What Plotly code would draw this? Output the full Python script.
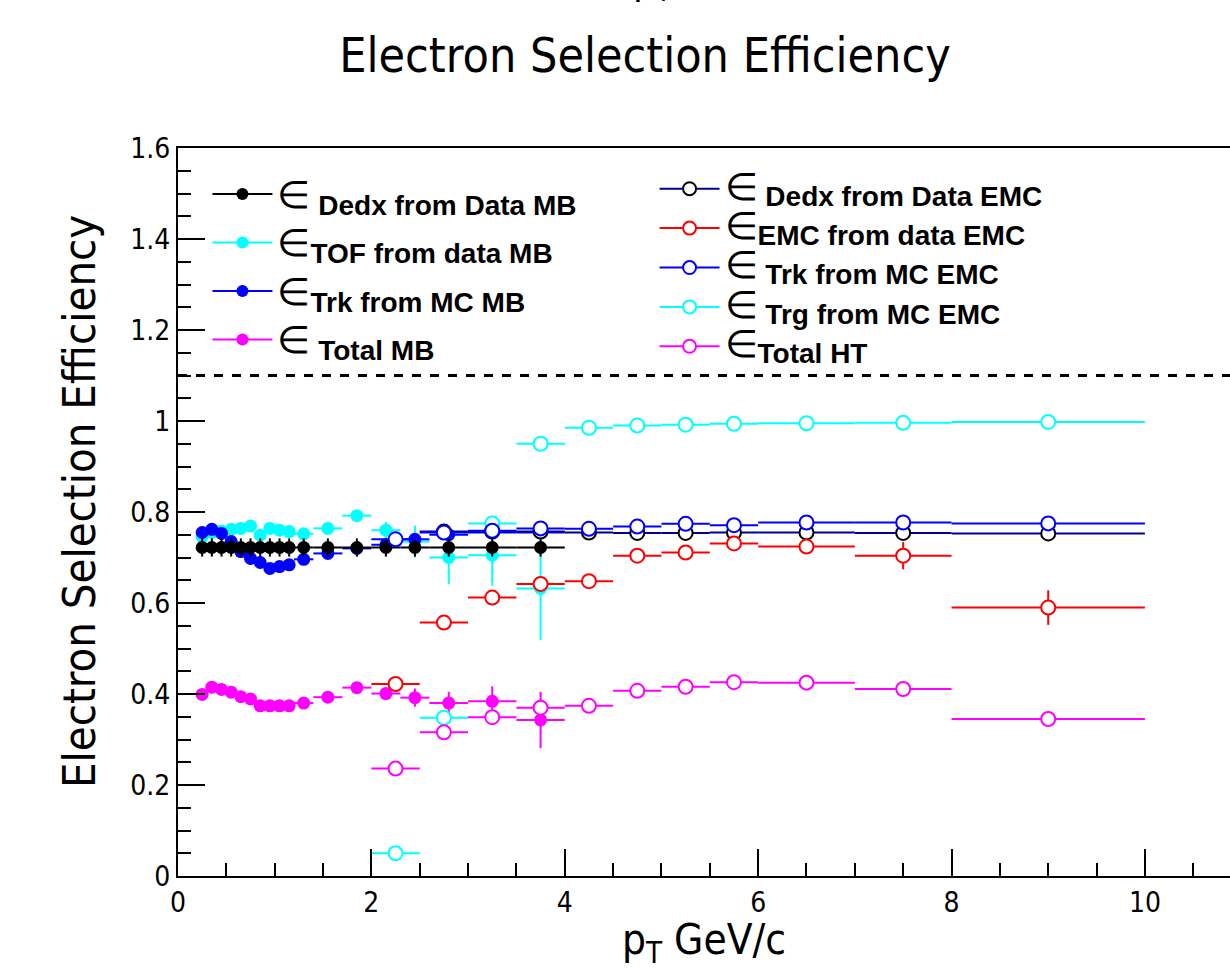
import plotly.graph_objects as go

# ---------------- data ----------------
mb_x = [0.25, 0.35, 0.45, 0.55, 0.65, 0.75, 0.85, 0.95, 1.05, 1.15,
        1.3, 1.55, 1.85, 2.15, 2.45, 2.8, 3.25, 3.75]
mb_xerr = [0.05] * 10 + [0.1, 0.15, 0.15, 0.15, 0.15, 0.2, 0.25, 0.25]

dedx_mb = [0.722] * 18
dedx_mb_err = [0.02] * 18

tof_mb = [0.745, 0.755, 0.758, 0.762, 0.764, 0.769, 0.749, 0.764, 0.760, 0.757,
          0.752, 0.764, 0.792, 0.760, 0.735, 0.700, 0.705, 0.632]
tof_mb_err = [0.012] * 13 + [0.018, 0.035, 0.058, 0.067, 0.113]

trk_mb = [0.755, 0.762, 0.753, 0.735, 0.713, 0.698, 0.689, 0.676, 0.680, 0.684,
          0.696, 0.709, 0.720, 0.728, 0.740, 0.750, 0.755, 0.755]
trk_mb_err = [0.005] * 18

total_mb = [0.399, 0.415, 0.410, 0.404, 0.394, 0.389, 0.374, 0.374, 0.374, 0.374,
            0.380, 0.393, 0.414, 0.401, 0.392, 0.380, 0.384, 0.343]
total_mb_err = [0.005] * 14 + [0.02, 0.025, 0.033, 0.062]

emc_x = [2.25, 2.75, 3.25, 3.75, 4.25, 4.75, 5.25, 5.75, 6.5, 7.5, 9.0]
emc_xerr = [0.25] * 8 + [0.5, 0.5, 1.0]

dedx_emc_x = emc_x[1:]
dedx_emc_xerr = emc_xerr[1:]
dedx_emc = [0.757, 0.757, 0.757, 0.755, 0.754, 0.754, 0.755, 0.755, 0.754, 0.753]
dedx_emc_err = [0.004] * 10

emc_emc = [0.422, 0.557, 0.612, 0.642, 0.648, 0.704, 0.711, 0.731, 0.724, 0.704, 0.590]
emc_emc_err = [0.008] * 8 + [0.012, 0.03, 0.038]

trk_emc = [0.740, 0.755, 0.759, 0.764, 0.763, 0.768, 0.774, 0.771, 0.777, 0.777, 0.775]
trk_emc_err = [0.004] * 11

trg_emc = [0.050, 0.348, 0.775, 0.950, 0.985, 0.990, 0.992, 0.994, 0.995, 0.996, 0.998]
trg_emc_err = [0.003] * 11

total_ht = [0.236, 0.316, 0.349, 0.370, 0.374, 0.407, 0.416, 0.426, 0.425, 0.411, 0.345]
total_ht_err = [0.005] * 9 + [0.01, 0.015]

ref_level = 1.1

labels_mb = ["Dedx from Data MB", "TOF from data MB", "Trk from MC MB", "Total MB"]
labels_emc = ["Dedx from Data EMC", "EMC from data EMC", "Trk from MC EMC",
              "Trg from MC EMC", "Total HT"]
pad_mb = [True, False, False, True]
pad_emc = [True, False, True, True, False]

NARROW = "Liberation Sans Narrow, Arial Narrow, DejaVu Sans Condensed, sans-serif"
BOLD = "Liberation Sans, Arial, sans-serif"
NAVY = "#000090"

fig = go.Figure()


def add_series(x, y, xerr, yerr, color, open_marker, barcolor=None):
    bc = barcolor or color
    if open_marker:
        marker = dict(symbol="circle", size=14, color="white",
                      line=dict(color=color, width=2))
    else:
        marker = dict(symbol="circle", size=13, color=color,
                      line=dict(color=color, width=0))
    fig.add_trace(go.Scatter(
        x=x, y=y, mode="markers", marker=marker, showlegend=False,
        error_x=dict(type="data", array=xerr, color=bc, thickness=2, width=0),
        error_y=dict(type="data", array=yerr, color=bc, thickness=2, width=0),
        hoverinfo="x+y"))


# MB (filled)
add_series(mb_x, tof_mb, mb_xerr, tof_mb_err, "#00ffff", False)
add_series(mb_x, trk_mb, mb_xerr, trk_mb_err, "#0000ff", False)
add_series(mb_x, dedx_mb, mb_xerr, dedx_mb_err, "#000000", False)
add_series(mb_x, total_mb, mb_xerr, total_mb_err, "#ff00ff", False)
# EMC (open)
add_series(emc_x, trg_emc, emc_xerr, trg_emc_err, "#00ffff", True)
add_series(dedx_emc_x, dedx_emc, dedx_emc_xerr, dedx_emc_err, "#000000", True, NAVY)
add_series(emc_x, trk_emc, emc_xerr, trk_emc_err, "#0000ff", True)
add_series(emc_x, emc_emc, emc_xerr, emc_emc_err, "#ff0000", True)
add_series(emc_x, total_ht, emc_xerr, total_ht_err, "#ff00ff", True)


def leg_name(text, pad):
    sp = "\u00a0" if pad else ""
    return ('<span style="font-size:38px">\u2208</span>'
            '<sub><span style="font-size:28px"><b>' + sp + text + '</b></span></sub>')


mb_colors = ["#000000", "#00ffff", "#0000ff", "#ff00ff"]
for lab, p, c in zip(labels_mb, pad_mb, mb_colors):
    fig.add_trace(go.Scatter(
        x=[None], y=[None], mode="lines+markers", name=leg_name(lab, p),
        line=dict(color=c, width=2),
        marker=dict(symbol="circle", size=12, color=c), legend="legend"))

emc_colors = ["#000000", "#ff0000", "#0000ff", "#00ffff", "#ff00ff"]
emc_lines = [NAVY, "#ff0000", "#0000ff", "#00ffff", "#ff00ff"]
for lab, p, c, lc in zip(labels_emc, pad_emc, emc_colors, emc_lines):
    fig.add_trace(go.Scatter(
        x=[None], y=[None], mode="lines+markers", name=leg_name(lab, p),
        line=dict(color=lc, width=2),
        marker=dict(symbol="circle", size=13, color="white",
                    line=dict(color=c, width=2)), legend="legend2"))

fig.add_shape(type="line", xref="paper", x0=0, x1=1, yref="y",
              y0=ref_level, y1=ref_level,
              line=dict(color="black", width=3, dash="dash"))

# fragment of a text lying above the canvas (only its bottom shows)
fig.add_annotation(text="p<sub>T</sub>", xref="paper", yref="paper",
                   x=(652 - 178) / 1052, y=(876 - 10) / 728, xanchor="center",
                   yanchor="bottom", showarrow=False,
                   font=dict(family=NARROW, size=40, color="black"))

# y-axis title
fig.add_annotation(text="Electron Selection Efficiency", xref="paper", yref="paper",
                   x=(79 - 178) / 1052, y=(876 - 502) / 728, xanchor="center",
                   yanchor="middle", textangle=-90, showarrow=False,
                   font=dict(family=NARROW, size=45, color="black"))

fig.update_layout(
    width=1230, height=970,
    margin=dict(l=178, r=0, t=148, b=94),
    paper_bgcolor="white", plot_bgcolor="white",
    title=dict(text="Electron Selection Efficiency", x=645 / 1230, xanchor="center",
               y=1 - 55 / 970, yanchor="middle",
               font=dict(family=NARROW, size=48, color="black")),
    font=dict(family=NARROW, color="black"),
    legend=dict(x=0.028, y=0.977, xanchor="left", yanchor="top",
                bgcolor="rgba(0,0,0,0)", borderwidth=0, itemwidth=60,
                font=dict(family=BOLD, size=35, color="black"),
                traceorder="normal"),
    legend2=dict(x=0.453, y=0.978, xanchor="left", yanchor="top",
                 bgcolor="rgba(0,0,0,0)", borderwidth=0, itemwidth=60,
                 font=dict(family=BOLD, size=28, color="black"),
                 traceorder="normal"),
    xaxis=dict(range=[0, 10.88], showgrid=False, zeroline=False,
               showline=True, linecolor="black", linewidth=2, mirror=True,
               ticks="inside", ticklen=27, tickwidth=1.5, tickcolor="black",
               dtick=2, tick0=0,
               minor=dict(dtick=0.5, ticklen=13, tickwidth=1.5, tickcolor="black",
                          ticks="inside", showgrid=False),
               tickfont=dict(family=NARROW, size=28, color="black"),
               title=dict(text="p<sub>T</sub> GeV/c", standoff=14,
                          font=dict(family=NARROW, size=42, color="black"))),
    yaxis=dict(range=[0, 1.6], showgrid=False, zeroline=False,
               showline=True, linecolor="black", linewidth=2, mirror=False,
               ticks="inside", ticklen=27, tickwidth=1.5, tickcolor="black",
               dtick=0.2, tick0=0,
               minor=dict(dtick=0.05, ticklen=13, tickwidth=1.5, tickcolor="black",
                          ticks="inside", showgrid=False),
               tickfont=dict(family=NARROW, size=28, color="black")),
)

fig.write_html("out.html", config={"displayModeBar": False},
               post_script="document.body.style.margin='0';"
                           "document.body.style.overflow='hidden';")
